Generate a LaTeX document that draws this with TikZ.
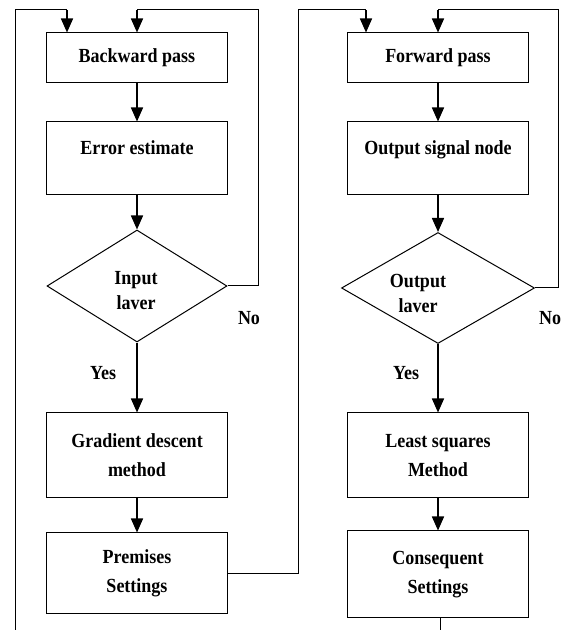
\documentclass[tikz,border=0pt]{standalone}
\usepackage{fontspec}
\setmainfont{Liberation Serif}[FakeStretch=0.9]
\usetikzlibrary{shapes.geometric,arrows.meta}

\tikzset{
    box/.style = {draw, line width=1pt, minimum width=181pt, align=center, inner sep=2pt},
    cond/.style = {draw, diamond, line width=1pt, inner sep=0pt},
    arr/.style = {line width=1.6pt, -{Triangle[length=14pt,width=12pt]}},
    wire/.style = {line width=1pt},
    lbl/.style = {align=center, inner sep=0pt}
}

\begin{document}
\begin{tikzpicture}[x=1pt, y=1pt, font=\fontsize{20}{29}\selectfont\bfseries]
        \useasboundingbox (0,0) rectangle (561,630);

        % backward column
        \node[box, minimum height=50pt] (bp) at (137,572) {Backward pass};
        \node[box, minimum height=73pt, text height=13pt, text depth=21pt] (ee) at (137,471.5) {Error estimate};
        \node[cond, minimum width=180pt, minimum height=112pt] (d1) at (137,344) {};
        \node[lbl, font=\fontsize{20}{25}\selectfont\bfseries] (d1t) at (136,339) {Input\\laver};
        \node[box, minimum height=85pt] (gd) at (137,174.5) {Gradient descent\\method};
        \node[box, minimum height=81pt] (ps) at (137,56.5) {Premises\\Settings};

        \draw[arr] (bp) -- (ee);
        \draw[arr] (ee) -- (d1);
        \draw[arr] (d1) -- (gd);
        \draw[arr] (gd) -- (ps);

        \node[lbl] (yes1) at (103,256.5) {Yes};
        \node[lbl] (no1) at (249,312) {No};

        % forward column
        \node[box, minimum height=50pt] (fp) at (438,572) {Forward pass};
        \node[box, minimum height=73pt, text height=13pt, text depth=21pt] (os) at (438,471.5) {Output signal node};
        \node[cond, minimum width=193pt, minimum height=111pt] (d2) at (438,342) {};
        \node[lbl, font=\fontsize{20}{25}\selectfont\bfseries] (d2t) at (418,337) {Output\\laver};
        \node[box, minimum height=85pt] (ls) at (438,174.5) {Least squares\\Method};
        \node[box, minimum height=87pt] (cs) at (438,55.5) {Consequent\\Settings};

        \draw[arr] (fp) -- (os);
        \draw[arr] (os) -- (d2);
        \draw[arr] (d2) -- (ls);
        \draw[arr] (ls) -- (cs);

        \node[lbl] (yes2) at (406,256.5) {Yes};
        \node[lbl] (no2) at (550,312) {No};

        % loops
        \coordinate (lb) at (15,0);
        \coordinate (lt) at (67,620);
        \draw[wire] (lb) |- (lt);
        \draw[arr] (lt) -- (lt |- bp.north);

        \coordinate (n1) at (258,620);
        \draw[wire] (d1.east) -| (n1) -- (n1 -| bp.north);
        \draw[arr] (n1 -| bp.north) -- (bp.north);

        \coordinate (mt) at (298,620);
        \coordinate (ft) at (366,620);
        \draw[wire] (ps.east) -| (mt) -- (ft);
        \draw[arr] (ft) -- (ft |- fp.north);

        \coordinate (n2) at (558,620);
        \draw[wire] (d2.east) -| (n2) -- (n2 -| fp.north);
        \draw[arr] (n2 -| fp.north) -- (fp.north);

        \coordinate (rb) at (440,0);
        \draw[wire] (cs.south -| rb) -- (rb);
    \end{tikzpicture}
\end{document}
